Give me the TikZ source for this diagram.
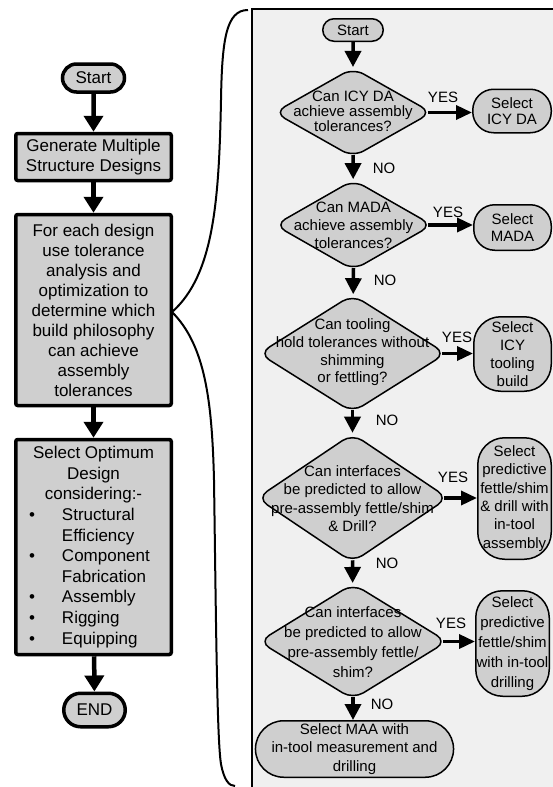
\documentclass[tikz,border=0pt]{standalone}
\usepackage{fontspec}
\setmainfont{Liberation Sans}
\usetikzlibrary{shapes.geometric,shapes.misc,arrows.meta}
\definecolor{boxgray}{HTML}{CFCFCF}
\definecolor{panelgray}{HTML}{F0F0F0}
\begin{document}
\begin{tikzpicture}[x=1pt,y=-1pt,
  lnode/.style={draw=black, line width=3.5pt, fill=boxgray, inner sep=0pt, align=center, font=\fontsize{17}{20}\selectfont},
  lbox/.style={lnode, rectangle, rounded corners=2pt},
  lterm/.style={lnode, rounded rectangle},
  rnode/.style={draw=black, line width=1.5pt, fill=boxgray, inner sep=0pt, align=center, font=\fontsize{15}{15}\selectfont},
  rterm/.style={rnode, rounded rectangle},
  rsel/.style={rnode, rectangle, rounded corners=21pt},
  rtall/.style={rnode, rectangle, rounded corners=27pt},
  rdia/.style={rnode, diamond, rounded corners=12pt},
  dtext/.style={align=center, inner sep=0pt},
  larrow/.style={line width=4.5pt, -{Triangle[width=19pt,length=16pt]}},
  rarrow/.style={line width=3.5pt, -{Triangle[width=16pt,length=16pt]}},
  yarrow/.style={line width=3.5pt, -{Triangle[width=14pt,length=16pt]}},
  lab/.style={font=\fontsize{15}{15}\selectfont, inner sep=0pt},
  brace/.style={line width=2pt}
]
\useasboundingbox (0,0) rectangle (553,787);

% right panel background
\fill[panelgray] (252,9) rectangle (553,787);
\draw[line width=1.2pt] (252,787) -- (252,9) -- (553,9);

% brace
\draw[brace] (248,10) .. controls (226,10) and (222,40) .. (221,100)
  .. controls (219,200) and (214,275) .. (172,312)
  .. controls (205,345) and (212,400) .. (214,480)
  .. controls (216,620) and (217,740) .. (221,764)
  .. controls (224,780) and (229,786) .. (235,786);

% left column
\node[lterm, minimum width=62, minimum height=28] (ls) at (93.5,78) {Start};
\node[lbox, minimum width=155.5, minimum height=47] (lg) at (93.5,157) {Generate Multiple\\Structure Designs};
\node[lbox, minimum width=155.5, minimum height=191] (lf) at (93.5,310) {For each design\\use tolerance\\analysis and\\optimization to\\determine which\\build philosophy\\can achieve\\assembly\\tolerances};
\node[lbox, minimum width=155.5, minimum height=215, font=\fontsize{17}{20.6}\selectfont] (lo) at (93.5,547) {\parbox{150pt}{\centering Select Optimum\\Design\\considering:-\par\raggedright
\hspace*{10.5pt}\makebox[33pt][l]{\textbullet}Structural\\
\hspace*{43.5pt}Efficiency\\
\hspace*{10.5pt}\makebox[33pt][l]{\textbullet}Component\\
\hspace*{43.5pt}Fabrication\\
\hspace*{10.5pt}\makebox[33pt][l]{\textbullet}Assembly\\
\hspace*{10.5pt}\makebox[33pt][l]{\textbullet}Rigging\\
\hspace*{10.5pt}\makebox[33pt][l]{\textbullet}Equipping\par}};
\node[lterm, minimum width=61.5, minimum height=33.5] (le) at (94.5,710) {END};

\draw[larrow] (ls) -- (lg);
\draw[larrow] (lg) -- (lf);
\draw[larrow] (lf) -- (lo);
\draw[larrow] (lo) -- (le);

% right column
\node[rterm, minimum width=60.5, minimum height=22.5] (rs) at (353,30) {Start};

\node[rdia, minimum width=158, minimum height=89.5] (d1) at (353,112.5) {};
\node[dtext, font=\fontsize{15}{15}\selectfont] (d1t) at (353,111.5) {Can ICY DA\\achieve assembly\\tolerances?};
\node[rsel, minimum width=78.5, minimum height=43.5, font=\fontsize{15}{16}\selectfont] (s1) at (512,111) {Select\\ICY DA};

\node[rdia, minimum width=158, minimum height=90.5] (d2) at (353.5,225) {};
\node[dtext, font=\fontsize{15}{17.8}\selectfont] (d2t) at (353.5,225.5) {Can MADA\\achieve assembly\\tolerances?};
\node[rsel, minimum width=77.5, minimum height=45.5, font=\fontsize{15}{17}\selectfont] (s2) at (512.5,227.5) {Select\\MADA};

\node[rdia, minimum width=187.5, minimum height=118] (d3) at (352.5,353.5) {};
\node[dtext, font=\fontsize{15}{17.7}\selectfont] (d3t) at (352.5,352.5) {Can tooling\\hold tolerances without\\shimming\\or fettling?};
\node[rtall, minimum width=77.5, minimum height=74.5, font=\fontsize{15}{18}\selectfont] (s3) at (512.5,354) {Select\\ICY\\tooling\\build};

\node[rdia, minimum width=191.5, minimum height=129] (d4) at (352.5,498) {};
\node[dtext, font=\fontsize{15}{18.3}\selectfont] (d4t) at (352.5,498.5) {Can interfaces\\be predicted to allow\\pre-assembly fettle/shim\\\& Drill?};
\node[rtall, minimum width=73.5, minimum height=121.5, font=\fontsize{15}{18.4}\selectfont] (s4) at (514.5,498.5) {Select\\predictive\\fettle/shim\\\& drill with\\in-tool\\assembly};

\node[rdia, minimum width=188.5, minimum height=116] (d5) at (353,641.5) {};
\node[dtext, font=\fontsize{15}{20}\selectfont] (d5t) at (353,642) {Can interfaces\\be predicted to allow\\pre-assembly fettle/\\shim?};
\node[rtall, minimum width=73.5, minimum height=105.5, font=\fontsize{15}{20}\selectfont] (s5) at (512.5,643.5) {Select\\predictive\\fettle/shim\\with in-tool\\drilling};

\node[rterm, minimum width=193.5, minimum height=56.5, font=\fontsize{15}{18.5}\selectfont] (fin) at (354.5,749) {Select MAA with\\in-tool measurement and\\drilling};

% right connectors
\draw[rarrow] (rs) -- (d1);
\draw[rarrow] ([yshift=3pt]d1.south) -- (d2);
\draw[rarrow] ([yshift=3pt]d2.south) -- (d3);
\draw[rarrow] ([yshift=3pt]d3.south) -- (d4);
\draw[rarrow] ([yshift=3pt]d4.south) -- (d5);
\draw[rarrow] ([yshift=3pt]d5.south) -- (d5.south |- fin.north);

\draw[yarrow] ([xshift=-5pt]d1.east) -- (d1.east -| s1.west);
\draw[yarrow] ([xshift=-5pt]d2.east) -- (d2.east -| s2.west);
\draw[yarrow] ([xshift=-5pt]d3.east) -- (d3.east -| s3.west);
\draw[yarrow] ([xshift=-5pt]d4.east) -- (d4.east -| s4.west);
\draw[yarrow] ([xshift=-5pt]d5.east) -- (d5.east -| s5.west);

% labels
\node[lab] (y1) at (443,97) {YES};
\node[lab] (y2) at (448,212) {YES};
\node[lab] (y3) at (457,337) {YES};
\node[lab] (y4) at (453,477) {YES};
\node[lab] (y5) at (451,623) {YES};
\node[lab] (n1) at (384,168) {NO};
\node[lab] (n2) at (385,280) {NO};
\node[lab] (n3) at (387,420) {NO};
\node[lab] (n4) at (387,563) {NO};
\node[lab] (n5) at (382,704) {NO};
\end{tikzpicture}
\end{document}
